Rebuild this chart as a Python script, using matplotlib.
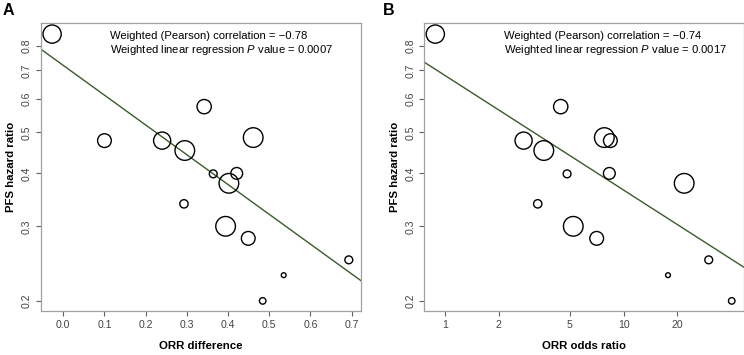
import numpy as np
from matplotlib import pyplot as plt
from matplotlib.ticker import FixedLocator, NullLocator, FixedFormatter

plt.rcParams['font.family'] = ['Liberation Sans', 'DejaVu Sans']
plt.rcParams['mathtext.fontset'] = 'custom'
plt.rcParams['mathtext.it'] = 'Liberation Sans:italic'
plt.rcParams['mathtext.rm'] = 'Liberation Sans'

# study level data
hr = [0.853, 0.478, 0.478, 0.453, 0.575, 0.486, 0.399, 0.40, 0.379, 0.339, 0.30, 0.281, 0.25, 0.23, 0.20]
orr_diff = [-0.027, 0.100, 0.240, 0.295, 0.342, 0.461, 0.364, 0.421, 0.402, 0.293, 0.394, 0.449, 0.693, 0.535, 0.484]
orr_or = [0.886, 8.43, 2.76, 3.58, 4.45, 7.8, 4.83, 8.32, 21.8, 3.31, 5.23, 7.07, 29.9, 17.7, 40.2]
weights = [86, 49, 76, 100, 53, 100, 16, 36, 100, 18, 100, 49, 16, 6, 11]

# fitted weighted regressions (log HR)
fit_a = (-0.329, -1.62)   # log(HR) = a + b * diff
fit_b = (-0.383, -0.271)  # log(HR) = a + b * log(OR)
text_a = ["Weighted (Pearson) correlation = \u22120.78", "Weighted linear regression $\\it{P}$ value = 0.0007"]
text_b = ["Weighted (Pearson) correlation = \u22120.74", "Weighted linear regression $\\it{P}$ value = 0.0017"]

yticks = [0.2, 0.3, 0.4, 0.5, 0.6, 0.7, 0.8]
xticks_a = [0.0, 0.1, 0.2, 0.3, 0.4, 0.5, 0.6, 0.7]
xticks_b = [1, 2, 5, 10, 20]

line_col = "#3b5a2c"
frame_col = "#a0a0a0"
tick_col = "#444444"

fig = plt.figure(figsize=(7.44, 3.55), dpi=100)
ax1 = fig.add_axes([0.0551, 0.1231, 0.4301, 0.8121])
ax2 = fig.add_axes([0.5703, 0.1231, 0.4293, 0.8121])

sizes = np.array(weights) * 2.0  # marker area ~ weight

def style(ax):
    ax.set_yscale("log")
    ax.set_ylim(0.189, 0.906)
    ax.yaxis.set_major_locator(FixedLocator(yticks))
    ax.yaxis.set_major_formatter(FixedFormatter([str(t) for t in yticks]))
    ax.yaxis.set_minor_locator(NullLocator())
    for s in ax.spines.values():
        s.set_color(frame_col)
        s.set_linewidth(0.9)
    ax.tick_params(axis="both", length=3.5, width=0.8, color="#606060", labelsize=7.6,
                   labelcolor=tick_col, pad=3)
    for lab in ax.get_yticklabels():
        lab.set_rotation(90)
        lab.set_va("center")
    ax.set_ylabel("PFS hazard ratio", fontsize=8.2, fontweight="bold", labelpad=4)

# panel A
ax1.scatter(orr_diff, hr, s=sizes, facecolors="none", edgecolors="black", linewidths=1.0, zorder=3)
xa = np.linspace(-0.054, 0.7226, 50)
ax1.plot(xa, np.exp(fit_a[0] + fit_a[1] * xa), color=line_col, lw=1.0, zorder=2)
ax1.set_xlim(-0.054, 0.7226)
ax1.set_xticks(xticks_a)
ax1.set_xticklabels([f"{t:.1f}" for t in xticks_a])
style(ax1)
ax1.set_xlabel("ORR difference", fontsize=8.2, fontweight="bold", labelpad=8)
ax1.text(0.216, 0.955, text_a[0], transform=ax1.transAxes, fontsize=8.1, va="center")
ax1.text(0.216, 0.906, text_a[1], transform=ax1.transAxes, fontsize=8.1, va="center")

# panel B
ax2.scatter(orr_or, hr, s=sizes, facecolors="none", edgecolors="black", linewidths=1.0, zorder=3)
ax2.set_xscale("log")
xb = np.exp(np.linspace(np.log(0.769), np.log(46.9), 50))
ax2.plot(xb, np.exp(fit_b[0] + fit_b[1] * np.log(xb)), color=line_col, lw=1.0, zorder=2)
ax2.set_xlim(0.769, 46.9)
ax2.xaxis.set_major_locator(FixedLocator(xticks_b))
ax2.xaxis.set_major_formatter(FixedFormatter([str(t) for t in xticks_b]))
ax2.xaxis.set_minor_locator(NullLocator())
style(ax2)
ax2.set_xlabel("ORR odds ratio", fontsize=8.2, fontweight="bold", labelpad=8)
ax2.text(0.25, 0.955, text_b[0], transform=ax2.transAxes, fontsize=8.1, va="center")
ax2.text(0.25, 0.906, text_b[1], transform=ax2.transAxes, fontsize=8.1, va="center")

fig.text(0.004, 0.97, "A", fontsize=11.5, fontweight="bold", va="center")
fig.text(0.514, 0.97, "B", fontsize=11.5, fontweight="bold", va="center")

fig.savefig("out.png", dpi=100)
